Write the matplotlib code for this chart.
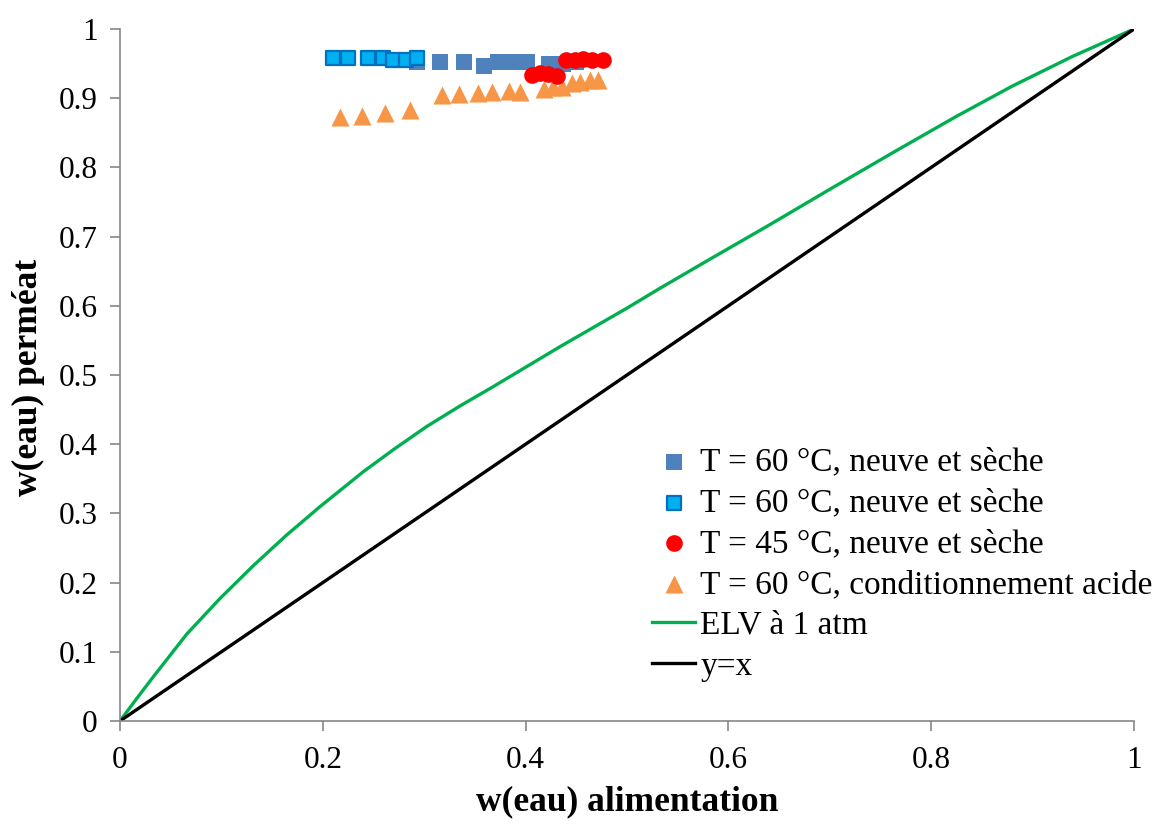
import matplotlib
matplotlib.use("Agg")
import matplotlib.pyplot as plt

plt.rcParams['font.family'] = ['Liberation Serif', 'DejaVu Serif']

# Data
s1_x = [0.293, 0.3156, 0.3393, 0.359, 0.373, 0.387, 0.4017, 0.4234, 0.437, 0.450]
s1_y = [0.953, 0.9518, 0.9518, 0.947, 0.9518, 0.9518, 0.9518, 0.950, 0.950, 0.9518]

s2_x = [0.2098, 0.2251, 0.2443, 0.2591, 0.2695, 0.2821, 0.2932]
s2_y = [0.9585, 0.9585, 0.9576, 0.9576, 0.955, 0.955, 0.9575]

s3_x = [0.406, 0.414, 0.4224, 0.4306, 0.4398, 0.4487, 0.457, 0.465, 0.4767]
s3_y = [0.9335, 0.936, 0.9344, 0.932, 0.955, 0.955, 0.956, 0.955, 0.955]

s4_x = [0.217, 0.239, 0.2617, 0.286, 0.3172, 0.3347, 0.3534, 0.367, 0.3836, 0.3945,
        0.418, 0.4267, 0.4356, 0.4455, 0.4536, 0.4635, 0.471]
s4_y = [0.8724, 0.8743, 0.879, 0.883, 0.904, 0.906, 0.907, 0.9095, 0.910, 0.9095,
        0.9128, 0.9157, 0.9166, 0.9215, 0.9239, 0.926, 0.9267]

elv_x = [0, 0.0165, 0.0329, 0.0658, 0.0986, 0.1315, 0.1644, 0.1972, 0.240, 0.270,
         0.3024, 0.335, 0.368, 0.434, 0.4997, 0.5325, 0.579, 0.640, 0.7017,
         0.7630, 0.8243, 0.880, 0.9388, 1.0]
elv_y = [0, 0.0325, 0.064, 0.1255, 0.1770, 0.2245, 0.2688, 0.3097, 0.3603, 0.3925,
         0.4255, 0.4550, 0.4831, 0.541, 0.5964, 0.6253, 0.665, 0.7165, 0.7698,
         0.8220, 0.8733, 0.9175, 0.960, 1.0]

yx_x = [0, 1]
yx_y = [0, 1]

labels = ["T = 60 °C, neuve et sèche", "T = 60 °C, neuve et sèche",
          "T = 45 °C, neuve et sèche", "T = 60 °C, conditionnement acide",
          "ELV à 1 atm", "y=x"]

W, H = 1162, 824
fig = plt.figure(figsize=(W / 100, H / 100), dpi=100)
ax = fig.add_axes([120 / W, 1 - 721 / H, (1134 - 120) / W, (721 - 29) / H])

fs_tick = 22.5
fs_leg = 24
fs_lab = 25.5
ms = 12
h1 = ax.scatter(s1_x, s1_y, marker='s', s=ms**2, color='#4F81BD', linewidths=0, zorder=3, label=labels[0])
h2 = ax.scatter(s2_x, s2_y, marker='s', s=(ms - 1.5)**2, facecolor='#00B0F0', edgecolor='#0070C0', linewidths=1.6, zorder=4, label=labels[1])
h3 = ax.scatter(s3_x, s3_y, marker='o', s=ms**2, color='#FF0000', linewidths=0, zorder=5, label=labels[2])
h4 = ax.scatter(s4_x, s4_y, marker='^', s=(ms + 1)**2, color='#F79646', linewidths=0, zorder=4, label=labels[3])
l1, = ax.plot(elv_x, elv_y, color='#00B050', lw=2.4, label=labels[4], zorder=2,
              solid_joinstyle='round')
l2, = ax.plot(yx_x, yx_y, color='black', lw=2.4, label=labels[5], zorder=2)

ax.set_xlim(0, 1)
ax.set_ylim(0, 1)
xt = [0, 0.2, 0.4, 0.6, 0.8, 1]
yt = [i / 10 for i in range(11)]
ax.set_xticks(xt)
ax.set_xticklabels(['0', '0.2', '0.4', '0.6', '0.8', '1'])
ax.set_yticks(yt)
ax.set_yticklabels(['0'] + ['%.1f' % v for v in yt[1:-1]] + ['1'])
for sp in ['top', 'right']:
    ax.spines[sp].set_visible(False)
for sp in ['left', 'bottom']:
    ax.spines[sp].set_color('#868686')
    ax.spines[sp].set_linewidth(1.2)
ax.tick_params(axis='both', direction='out', length=7, width=1.2, color='#868686',
               labelsize=fs_tick, labelcolor='black')
ax.tick_params(axis='y', pad=9)
ax.tick_params(axis='x', pad=11)

fig.text(627 / W, 1 - 802 / H, 'w(eau) alimentation', ha='center', va='center',
         fontsize=fs_lab, fontweight='bold')
fig.text(28 / W, 1 - 377 / H, 'w(eau) perméat', ha='center', va='center',
         rotation=90, fontsize=fs_lab, fontweight='bold')

leg = ax.legend(handles=[h1, h2, h3, h4, l1, l2], labels=labels,
                loc='upper left', bbox_to_anchor=(652 / W, 1 - 447 / H),
                bbox_transform=fig.transFigure, frameon=False, fontsize=fs_leg,
                handlelength=1.3, handletextpad=0.15, labelspacing=0.31,
                borderaxespad=0, borderpad=0, scatterpoints=1)

fig.savefig('out.png', dpi=100)
